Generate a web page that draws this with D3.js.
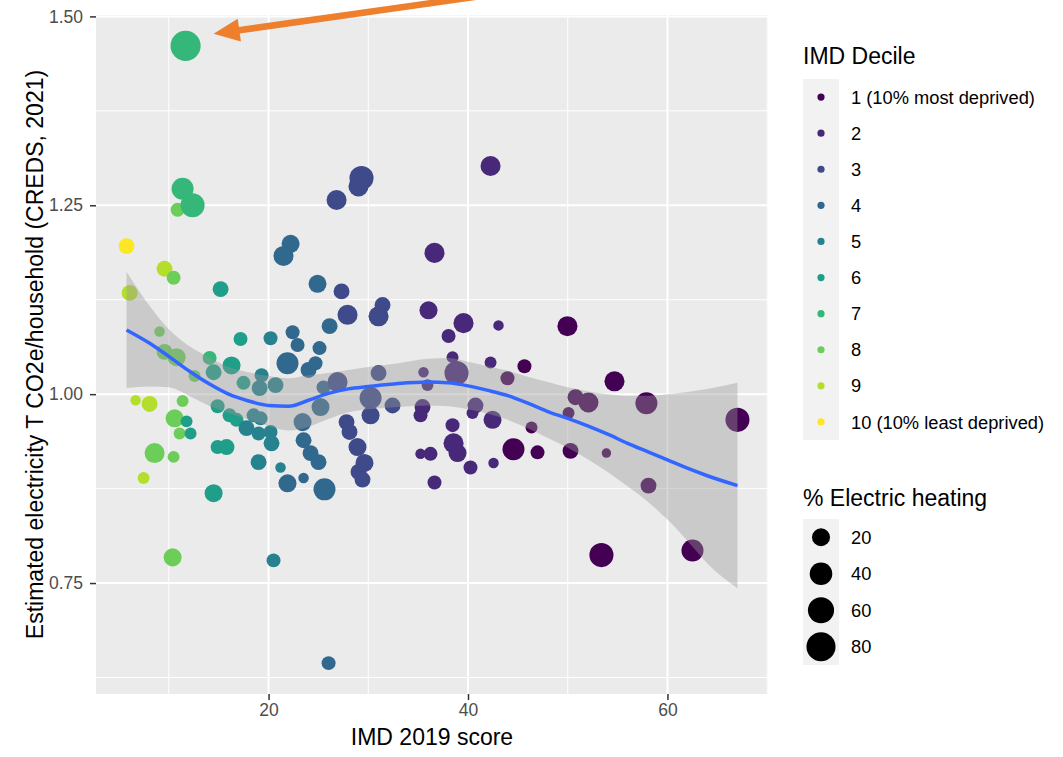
<!DOCTYPE html>
<html>
<head>
<meta charset="utf-8">
<script src="https://cdn.jsdelivr.net/npm/d3@7"></script>
<style>
  html, body { margin: 0; padding: 0; background: #ffffff; }
  svg { display: block; font-family: "Liberation Sans", Arial, Helvetica, sans-serif; }
</style>
</head>
<body>
<svg id="chart" width="1063" height="757"></svg>
<script>
// ---- Areas: IMD 2019 score, estimated electricity CO2e per household, % electric heating, IMD decile ----
const imdScore = [
  5.76,
  9.57, 6.07, 6.67, 8.07, 7.47,
  10.48, 10.88, 9.07, 9.57, 10.78, 12.58, 11.38, 10.58, 11.08, 8.57, 10.48, 10.38,
  11.68, 11.38, 12.38, 14.09,
  15.19, 17.19, 14.49, 16.29, 17.49, 14.89, 11.78, 12.18, 16.09, 16.79, 14.89, 15.79, 14.49,
  20.20, 19.30, 19.10, 20.70, 17.79, 18.50, 19.20, 19.00, 20.20, 20.30, 19.00, 21.20, 20.50,
  22.21, 21.50, 24.91, 26.12, 22.41, 22.91, 25.11, 21.90, 24.71, 24.01, 25.51, 25.21, 23.41, 23.51, 24.21, 25.01, 21.90, 23.51, 25.61, 26.02,
  26.82, 29.32, 29.02, 27.32, 27.92, 31.03, 31.43, 26.92, 31.03, 30.23, 30.23, 32.43, 27.82, 28.12, 28.92, 29.62, 29.02, 29.42,
  42.26, 36.64, 36.04, 39.55, 43.06, 38.05, 38.45, 42.26, 35.54, 38.85, 35.94, 35.44, 35.24, 40.75, 40.45, 42.46, 38.45, 35.24, 36.24, 38.55, 38.95, 40.25, 42.56, 36.64,
  43.96, 49.97, 45.66, 54.69, 50.78, 52.08, 57.89, 67.02, 50.08, 46.37, 44.56, 46.97, 50.28, 53.88, 58.10, 53.38, 62.51
];
const co2PerHousehold = [
  1.196,
  1.166, 1.134, 0.992, 0.987, 0.889,
  1.154, 1.244, 1.083, 1.056, 1.049, 1.024, 0.991, 0.968, 0.948, 0.922, 0.917, 0.784,
  1.461, 1.272, 1.250, 1.048,
  1.139, 1.073, 1.029, 1.038, 1.015, 0.984, 0.964, 0.948, 0.972, 0.966, 0.930, 0.930, 0.869,
  1.074, 1.025, 1.008, 1.012, 0.955, 0.972, 0.968, 0.948, 0.950, 0.935, 0.910, 0.903, 0.780,
  1.199, 1.183, 1.146, 1.090, 1.082, 1.065, 1.061, 1.041, 1.041, 1.032, 1.009, 0.983, 0.963, 0.939, 0.922, 0.910, 0.882, 0.889, 0.874, 0.644,
  1.257, 1.286, 1.275, 1.136, 1.105, 1.103, 1.118, 1.016, 1.028, 0.995, 0.972, 0.985, 0.963, 0.950, 0.930, 0.909, 0.897, 0.887,
  1.302, 1.187, 1.111, 1.094, 1.091, 1.077, 1.049, 1.042, 1.029, 1.028, 1.012, 0.983, 0.972, 0.985, 0.975, 0.966, 0.959, 0.921, 0.921, 0.935, 0.922, 0.903, 0.909, 0.883,
  1.021, 1.090, 1.037, 1.017, 0.996, 0.989, 0.988, 0.966, 0.975, 0.956, 0.927, 0.923, 0.925, 0.922, 0.879, 0.787, 0.793
];
const electricHeating = [
  13,
  13, 13, 2, 13, 4,
  8, 8, 2, 13, 20, 4, 4, 20, 4, 28, 4, 20,
  88, 37, 48, 8,
  13, 8, 13, 20, 8, 8, 4, 4, 8, 8, 8, 13, 20,
  8, 8, 13, 13, 13, 8, 8, 8, 8, 13, 13, 2, 8,
  20, 28, 20, 13, 8, 8, 8, 37, 8, 13, 8, 20, 20, 13, 13, 13, 20, 2, 37, 8,
  28, 48, 28, 13, 28, 28, 13, 28, 13, 37, 20, 13, 13, 13, 20, 20, 13, 13,
  28, 28, 20, 28, 2, 8, 4, 4, 2, 48, 4, 13, 8, 13, 4, 20, 8, 2, 8, 28, 20, 8, 2, 8,
  8, 28, 8, 28, 13, 28, 37, 48, 4, 4, 37, 8, 13, 1, 13, 48, 37
];
const imdDecile = [
  10,
  9, 9, 9, 9, 9,
  8, 8, 8, 8, 8, 8, 8, 8, 8, 8, 8, 8,
  7, 7, 7, 7,
  6, 6, 6, 6, 6, 6, 6, 6, 6, 6, 6, 6, 6,
  5, 5, 5, 5, 5, 5, 5, 5, 5, 5, 5, 5, 5,
  4, 4, 4, 4, 4, 4, 4, 4, 4, 4, 4, 4, 4, 4, 4, 4, 4, 4, 4, 4,
  3, 3, 3, 3, 3, 3, 3, 3, 3, 3, 3, 3, 3, 3, 3, 3, 3, 3,
  2, 2, 2, 2, 2, 2, 2, 2, 2, 2, 2, 2, 2, 2, 2, 2, 2, 2, 2, 2, 2, 2, 2, 2,
  1, 1, 1, 1, 1, 1, 1, 1, 1, 1, 1, 1, 1, 1, 1, 1, 1
];

// ---- Loess smooth with 95% confidence band ----
const smoothX     = [5.76, 8, 10, 12, 14, 16, 18, 20, 22, 24, 26, 28, 30, 33, 36, 38, 40, 42, 44, 46, 48, 50, 52, 54, 56, 58, 60, 62, 64, 67.02];
const smoothFit   = [1.085, 1.068, 1.050, 1.031, 1.014, 1.000, 0.991, 0.985, 0.984, 0.992, 1.001, 1.007, 1.010, 1.014, 1.016, 1.015, 1.011, 1.005, 0.998, 0.988, 0.977, 0.968, 0.958, 0.947, 0.935, 0.924, 0.913, 0.902, 0.892, 0.879];
const smoothUpper = [1.162, 1.118, 1.086, 1.064, 1.049, 1.036, 1.029, 1.024, 1.021, 1.025, 1.028, 1.032, 1.036, 1.041, 1.047, 1.048, 1.043, 1.037, 1.031, 1.023, 1.016, 1.009, 1.004, 1.000, 0.998, 0.998, 1.000, 1.003, 1.007, 1.015];
const smoothLower = [1.008, 1.010, 1.009, 0.998, 0.985, 0.975, 0.966, 0.958, 0.952, 0.957, 0.967, 0.976, 0.980, 0.983, 0.985, 0.984, 0.980, 0.974, 0.966, 0.955, 0.942, 0.929, 0.914, 0.897, 0.878, 0.858, 0.834, 0.806, 0.776, 0.743];

// ---- Axis ticks and legend entries ----
const xMajorTicks = [20, 40, 60];
const xMinorTicks = [10, 30, 50, 70];
const yMajorTicks = [0.75, 1.00, 1.25, 1.50];
const yMinorTicks = [0.625, 0.875, 1.125, 1.375];
const decileLabels = ["1 (10% most deprived)", "2", "3", "4", "5", "6", "7", "8", "9", "10 (10% least deprived)"];
const heatingBreaks = [20, 40, 60, 80];
const viridis10 = ["#440154", "#482878", "#3E4A89", "#31688E", "#26828E", "#1F9E89", "#35B779", "#6DCD59", "#B4DE2C", "#FDE725"];

(function draw() {
  const points = imdScore.map((x, i) => ({ x, y: co2PerHousehold[i], heat: electricHeating[i], decile: imdDecile[i] }));
  const smooth = smoothX.map((x, i) => ({ x, fit: smoothFit[i], lo: smoothLower[i], hi: smoothUpper[i] }));

  const svg = d3.select("#chart");
  const panel = { left: 96, right: 768, top: 15, bottom: 694 };

  // ggplot-style 5% expansion of the data range
  const expand = ext => { const d = (ext[1] - ext[0]) * 0.05; return [ext[0] - d, ext[1] + d]; };
  const x = d3.scaleLinear().domain(expand(d3.extent(imdScore))).range([panel.left, panel.right]);
  const y = d3.scaleLinear().domain(expand(d3.extent(co2PerHousehold))).range([panel.bottom, panel.top]);
  const r = d3.scaleSqrt().domain([0, 90]).range([3.5, 15.2]);
  const colour = d3.scaleOrdinal().domain(d3.range(1, 11)).range(viridis10);

  // panel background and grid
  svg.append("rect")
    .attr("x", panel.left).attr("y", panel.top)
    .attr("width", panel.right - panel.left).attr("height", panel.bottom - panel.top)
    .attr("fill", "#EBEBEB");

  const grid = svg.append("g");
  grid.selectAll(".ymin").data(yMinorTicks).join("line")
    .attr("x1", panel.left).attr("x2", panel.right)
    .attr("y1", d => y(d)).attr("y2", d => y(d))
    .attr("stroke", "#ffffff").attr("stroke-width", 1);
  grid.selectAll(".xmin").data(xMinorTicks.filter(t => x(t) <= panel.right)).join("line")
    .attr("y1", panel.top).attr("y2", panel.bottom)
    .attr("x1", d => x(d)).attr("x2", d => x(d))
    .attr("stroke", "#ffffff").attr("stroke-width", 1);
  grid.selectAll(".ymaj").data(yMajorTicks).join("line")
    .attr("x1", panel.left).attr("x2", panel.right)
    .attr("y1", d => y(d)).attr("y2", d => y(d))
    .attr("stroke", "#ffffff").attr("stroke-width", 2);
  grid.selectAll(".xmaj").data(xMajorTicks).join("line")
    .attr("y1", panel.top).attr("y2", panel.bottom)
    .attr("x1", d => x(d)).attr("x2", d => x(d))
    .attr("stroke", "#ffffff").attr("stroke-width", 2);

  // points
  svg.append("g").selectAll("circle").data(points).join("circle")
    .attr("cx", d => x(d.x)).attr("cy", d => y(d.y))
    .attr("r", d => r(d.heat))
    .attr("fill", d => colour(d.decile));

  // confidence band and smooth line
  svg.append("path").datum(smooth)
    .attr("d", d3.area().x(d => x(d.x)).y0(d => y(d.lo)).y1(d => y(d.hi)).curve(d3.curveMonotoneX))
    .attr("fill", "#999999").attr("fill-opacity", 0.4);
  svg.append("path").datum(smooth)
    .attr("d", d3.line().x(d => x(d.x)).y(d => y(d.fit)).curve(d3.curveMonotoneX))
    .attr("fill", "none").attr("stroke", "#3366FF").attr("stroke-width", 3.5);

  // axes
  const xAxis = svg.append("g").attr("transform", `translate(0,${panel.bottom})`)
    .call(d3.axisBottom(x).tickValues(xMajorTicks).tickSize(6).tickPadding(4).tickFormat(d3.format("d")));
  const yAxis = svg.append("g").attr("transform", `translate(${panel.left},0)`)
    .call(d3.axisLeft(y).tickValues(yMajorTicks).tickSize(6).tickPadding(7).tickFormat(d3.format(".2f")));
  [xAxis, yAxis].forEach(a => {
    a.select(".domain").remove();
    a.selectAll(".tick line").attr("stroke", "#333333").attr("stroke-width", 1.5);
    a.selectAll(".tick text").attr("fill", "#4D4D4D").style("font-size", "17.5px")
      .style("font-family", "'Liberation Sans', Arial, sans-serif");
  });

  svg.append("text")
    .attr("x", (panel.left + panel.right) / 2).attr("y", 745)
    .attr("text-anchor", "middle").attr("fill", "#000").style("font-size", "23px")
    .text("IMD 2019 score");
  svg.append("text")
    .attr("transform", `translate(43,${(panel.top + panel.bottom) / 2}) rotate(-90)`)
    .attr("text-anchor", "middle").attr("fill", "#000").style("font-size", "23px")
    .text("Estimated electricity T CO2e/household (CREDS, 2021)");

  // colour legend
  const lx = 803, keyW = 36, keyH = 36.1, labelX = 851;
  const legC = svg.append("g");
  legC.append("text").attr("x", lx).attr("y", 64).style("font-size", "23px").attr("fill", "#000").text("IMD Decile");
  legC.append("rect").attr("x", lx).attr("y", 79).attr("width", keyW).attr("height", keyH * decileLabels.length).attr("fill", "#F2F2F2");
  decileLabels.forEach((lab, i) => {
    const cy = 79 + keyH * (i + 0.5);
    legC.append("circle").attr("cx", lx + keyW / 2).attr("cy", cy).attr("r", 3.6).attr("fill", colour(i + 1));
    legC.append("text").attr("x", labelX).attr("y", cy).attr("dy", "0.36em")
      .style("font-size", "18.3px").attr("fill", "#000").text(lab);
  });

  // size legend
  const legS = svg.append("g");
  legS.append("text").attr("x", lx).attr("y", 506).style("font-size", "23px").attr("fill", "#000").text("% Electric heating");
  legS.append("rect").attr("x", lx).attr("y", 519).attr("width", keyW).attr("height", 36.5 * heatingBreaks.length).attr("fill", "#F2F2F2");
  heatingBreaks.forEach((v, i) => {
    const cy = 519 + 36.5 * (i + 0.5);
    legS.append("circle").attr("cx", lx + keyW / 2).attr("cy", cy).attr("r", r(v)).attr("fill", "#000");
    legS.append("text").attr("x", labelX).attr("y", cy).attr("dy", "0.36em")
      .style("font-size", "18.3px").attr("fill", "#000").text(v);
  });

  // orange arrow pointing at the highest-emission area
  const peak = points.reduce((a, b) => (b.y > a.y ? b : a));
  const tip = [x(peak.x) + 28, y(peak.y) - 12];
  const dir = [0.990, -0.140], perp = [0.140, 0.990];
  const headLen = 26, headHalf = 11.5;
  const base = [tip[0] + dir[0] * headLen, tip[1] + dir[1] * headLen];
  svg.append("line")
    .attr("x1", base[0] - dir[0] * 2).attr("y1", base[1] - dir[1] * 2)
    .attr("x2", tip[0] + dir[0] * 300).attr("y2", tip[1] + dir[1] * 300)
    .attr("stroke", "#EE7F2D").attr("stroke-width", 6.5);
  svg.append("polygon")
    .attr("points", [tip,
      [base[0] + perp[0] * headHalf, base[1] + perp[1] * headHalf],
      [base[0] - perp[0] * headHalf, base[1] - perp[1] * headHalf]].map(p => p.join(",")).join(" "))
    .attr("fill", "#EE7F2D");
})();
</script>
</body>
</html>
